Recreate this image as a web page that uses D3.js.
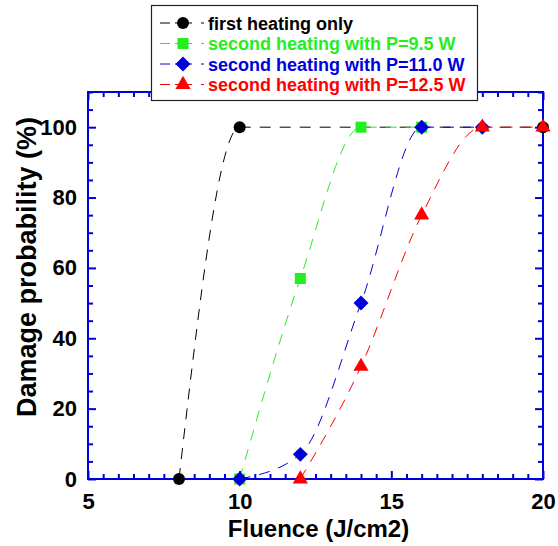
<!DOCTYPE html>
<html>
<head>
<meta charset="utf-8">
<script src="https://cdn.jsdelivr.net/npm/d3@7"></script>
<style>
  html, body { margin: 0; padding: 0; background: #fff; }
  svg { display: block; font-family: "Liberation Sans", Arial, Helvetica, sans-serif; font-weight: bold; }
</style>
</head>
<body>
<svg id="chart"></svg>
<script>
// data
const seriesNames = ["first heating only", "second heating with P=9.5 W", "second heating with P=11.0 W", "second heating with P=12.5 W"];
const fluenceBlack = [8, 10, 20];
const damageBlack = [0, 100, 100];
const fluenceGreen = [10, 12, 14, 16];
const damageGreen = [0, 57, 100, 100];
const fluenceBlue = [10, 12, 14, 16, 18];
const damageBlue = [0, 7, 50, 100, 100];
const fluenceRed = [12, 14, 16, 18, 20];
const damageRed = [0, 32, 75, 100, 100];
const xTicks = [5, 10, 15, 20];
const yTicks = [0, 20, 40, 60, 80, 100];

const width = 558;
const height = 546;
const marginTop = 92;
const marginRight = 15;
const marginBottom = 67;
const marginLeft = 88;
const axisColor = "#0000dd";

const series = [
    { name: seriesNames[0], xs: fluenceBlack, ys: damageBlack, color: "#000000", symbol: "circle" },
    { name: seriesNames[1], xs: fluenceGreen, ys: damageGreen, color: "#22ee22", symbol: "square" },
    { name: seriesNames[2], xs: fluenceBlue, ys: damageBlue, color: "#0000dd", symbol: "diamond" },
    { name: seriesNames[3], xs: fluenceRed, ys: damageRed, color: "#ff0000", symbol: "triangle" }
];

const x = d3.scaleLinear()
    .domain([5, 20])
    .range([marginLeft, width - marginRight]);

const y = d3.scaleLinear()
    .domain([0, 110])
    .range([height - marginBottom, marginTop]);

const svg = d3.select("#chart")
    .attr("width", width)
    .attr("height", height)
    .attr("viewBox", [0, 0, width, height]);

// 画标记
function marker(g, type, color) {
    if (type === "circle") {
        g.append("circle").attr("r", 6).attr("fill", color);
    } else if (type === "square") {
        g.append("rect").attr("x", -5.5).attr("y", -5.5).attr("width", 11).attr("height", 11).attr("fill", color);
    } else if (type === "diamond") {
        g.append("path").attr("d", d3.symbol(d3.symbolSquare, 112)()).attr("transform", "rotate(45)").attr("fill", color);
    } else {
        g.append("path").attr("d", d3.symbol(d3.symbolTriangle, 100)()).attr("fill", color);
    }
}

// 小刻度
const xMinor = d3.range(5, 20.01, 0.5).filter(v => !xTicks.includes(v));
const yMinor = d3.range(0, 110.01, 5).filter(v => !yTicks.includes(v));

function styleAxis(g) {
    g.selectAll(".domain").remove();
    g.selectAll(".tick line").attr("stroke", axisColor).attr("stroke-width", 2);
    g.selectAll(".tick text").attr("fill", "#000").attr("font-size", "22px").attr("font-weight", "bold")
        .attr("font-family", "Liberation Sans, Arial, sans-serif");
}

const x0 = height - marginBottom;
const y0 = marginTop;

// bottom axis
svg.append("g").attr("transform", `translate(0,${x0})`)
    .call(d3.axisBottom(x).tickValues(xTicks).tickSize(-8).tickPadding(14).tickFormat(d3.format("d")))
    .call(styleAxis);
svg.append("g").attr("transform", `translate(0,${x0})`)
    .call(d3.axisBottom(x).tickValues(xMinor).tickSize(-5).tickFormat(""))
    .call(styleAxis);
// top axis
svg.append("g").attr("transform", `translate(0,${y0})`)
    .call(d3.axisTop(x).tickValues(xTicks).tickSize(-8).tickFormat(""))
    .call(styleAxis);
svg.append("g").attr("transform", `translate(0,${y0})`)
    .call(d3.axisTop(x).tickValues(xMinor).tickSize(-5).tickFormat(""))
    .call(styleAxis);
// left axis
svg.append("g").attr("transform", `translate(${marginLeft},0)`)
    .call(d3.axisLeft(y).tickValues(yTicks).tickSize(-8).tickPadding(11))
    .call(styleAxis);
svg.append("g").attr("transform", `translate(${marginLeft},0)`)
    .call(d3.axisLeft(y).tickValues(yMinor).tickSize(-5).tickFormat(""))
    .call(styleAxis);
// right axis
svg.append("g").attr("transform", `translate(${width - marginRight},0)`)
    .call(d3.axisRight(y).tickValues(yTicks).tickSize(-8).tickFormat(""))
    .call(styleAxis);
svg.append("g").attr("transform", `translate(${width - marginRight},0)`)
    .call(d3.axisRight(y).tickValues(yMinor).tickSize(-5).tickFormat(""))
    .call(styleAxis);

// frame
svg.append("rect")
    .attr("x", marginLeft)
    .attr("y", marginTop)
    .attr("width", width - marginLeft - marginRight)
    .attr("height", height - marginTop - marginBottom)
    .attr("fill", "none")
    .attr("stroke", axisColor)
    .attr("stroke-width", 2);

// curves + markers
const line = d3.line().curve(d3.curveMonotoneX);
series.forEach(s => {
    const pts = s.xs.map((v, i) => [x(v), y(s.ys[i])]);
    svg.append("path")
        .attr("d", line(pts))
        .attr("fill", "none")
        .attr("stroke", s.color)
        .attr("stroke-width", 1)
        .attr("stroke-dasharray", "11,9");
    pts.forEach(p => {
        marker(svg.append("g").attr("transform", `translate(${p[0]},${p[1]})`), s.symbol, s.color);
    });
});

// axis titles
svg.append("text")
    .attr("x", (marginLeft + width - marginRight) / 2 + 3)
    .attr("y", 537)
    .attr("text-anchor", "middle")
    .attr("font-size", "24px")
    .text("Fluence (J/cm2)");

svg.append("text")
    .attr("transform", `translate(36,267) rotate(-90)`)
    .attr("text-anchor", "middle")
    .attr("font-size", "27px")
    .text("Damage probability (%)");

// legend
const legend = svg.append("g");
legend.append("rect")
    .attr("x", 151.5).attr("y", 5.5)
    .attr("width", 326).attr("height", 95)
    .attr("fill", "#fff")
    .attr("stroke", "#222")
    .attr("stroke-width", 1.2);

series.forEach((s, i) => {
    const ly = 23 + i * 20.5;
    legend.append("line")
        .attr("x1", 160).attr("x2", 205)
        .attr("y1", ly).attr("y2", ly)
        .attr("stroke", s.color)
        .attr("stroke-width", 1)
        .attr("stroke-dasharray", "10,5,17,9,3");
    marker(legend.append("g").attr("transform", `translate(183,${ly})`), s.symbol, s.color);
    legend.append("text")
        .attr("x", 208)
        .attr("y", ly + 6.5)
        .attr("font-size", "18px")
        .attr("fill", s.color)
        .text(s.name);
});
</script>
</body>
</html>
